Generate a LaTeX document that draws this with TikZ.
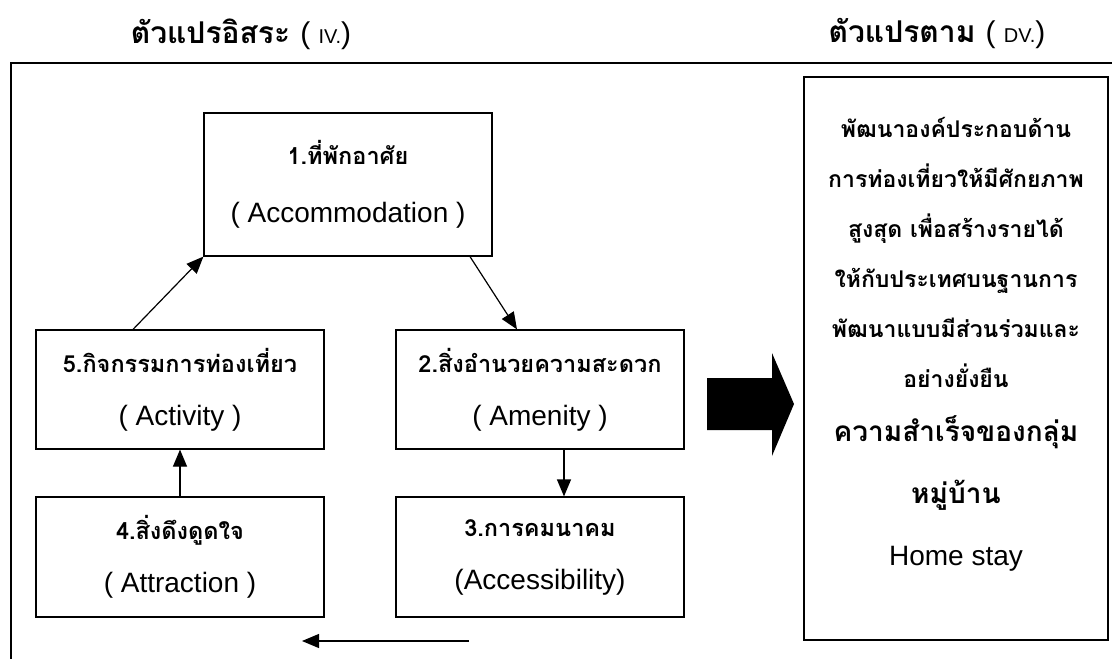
\documentclass[tikz,border=0pt]{standalone}
\usepackage{fontspec}
\setmainfont{Liberation Sans}
\newfontfamily\thaifont[Script=Thai]{Loma}
\usetikzlibrary{arrows.meta}
\newcommand{\thb}{\fontsize{23.5}{53}\thaifont\bfseries}
\newcommand{\en}{\rmfamily\mdseries}
\begin{document}
\begin{tikzpicture}[x=1pt,y=-1pt,
    box/.style={draw, line width=1.2pt, minimum width=288pt, minimum height=120pt,
        align=center, inner sep=0pt, font=\fontsize{28}{53}\selectfont},
    arr/.style={line width=1.2pt, -{Triangle[length=17pt,width=14pt]}},
    hdr/.style={font=\fontsize{30}{36}\thaifont\bfseries}]
    \useasboundingbox (0,0) rectangle (1112,659);
    %% headings
    \node[hdr] (ivhead) at (241,34) {ตัวแปรอิสระ \en( {\fontsize{20}{24}\selectfont IV.})};
    \node[hdr] (dvhead) at (937,34) {ตัวแปรตาม \en( {\fontsize{20}{24}\selectfont DV.})};
    %% frame
    \draw[line width=1.6pt] (11,659) -- (11,63) -- (1112,63);
    %% the five components
    \node[box, minimum height=143pt, font=\fontsize{28}{58}\selectfont] (acc) at (348,184.5)
        {{\thb 1.ที่พักอาศัย}\\( Accommodation )};
    \node[box, minimum height=119pt] (act) at (180,389.5) {{\thb 5.กิจกรรมการท่องเที่ยว}\\( Activity )};
    \node[box, minimum height=119pt] (amen) at (540,389.5) {{\thb 2.สิ่งอำนวยความสะดวก}\\( Amenity )};
    \node[box] (attr) at (180,557) {{\thb 4.สิ่งดึงดูดใจ}\\( Attraction )};
    \node[box] (acs) at (540,557) {{\thb 3.การคมนาคม}\\(Accessibility)};
    %% arrows between them
    \draw[arr] ([xshift=-47pt]act.north) -- (acc.south west);
    \draw[arr] ([xshift=122pt]acc.south) -- ([xshift=-23pt]amen.north);
    \draw[arr] ([xshift=24pt]amen.south) -- ([xshift=24pt]acs.north);
    \draw[arr] (attr.north) -- (act.south);
    \coordinate (backR) at (469,641);
    \coordinate (backL) at (302,641);
    \draw[arr] (backR) -- (backL);
    %% big arrow
    \fill (707,378) -- (772,378) -- (772,353) -- (794,404) -- (772,456) -- (772,430) -- (707,430) -- cycle;
    %% dependent variable
    \node[draw, line width=1.2pt, minimum width=304pt, minimum height=563pt] (dv) at (956,358.5) {};
    \node[font=\fontsize{23}{50}\thaifont\bfseries, align=center] (dvtext) at ([yshift=14pt]dv.center)
        {พัฒนาองค์ประกอบด้าน\\
         การท่องเที่ยวให้มีศักยภาพ\\
         สูงสุด เพื่อสร้างรายได้\\
         ให้กับประเทศบนฐานการ\\
         พัฒนาแบบมีส่วนร่วมและ\\
         อย่างยั่งยืน\\[4pt]
         {\fontsize{28}{50}\selectfont ความสำเร็จของกลุ่ม}\\[12pt]
         {\fontsize{28}{50}\selectfont หมู่บ้าน}\\[12pt]
         {\en\fontsize{28}{50}\selectfont Home stay}};
\end{tikzpicture}
\end{document}
